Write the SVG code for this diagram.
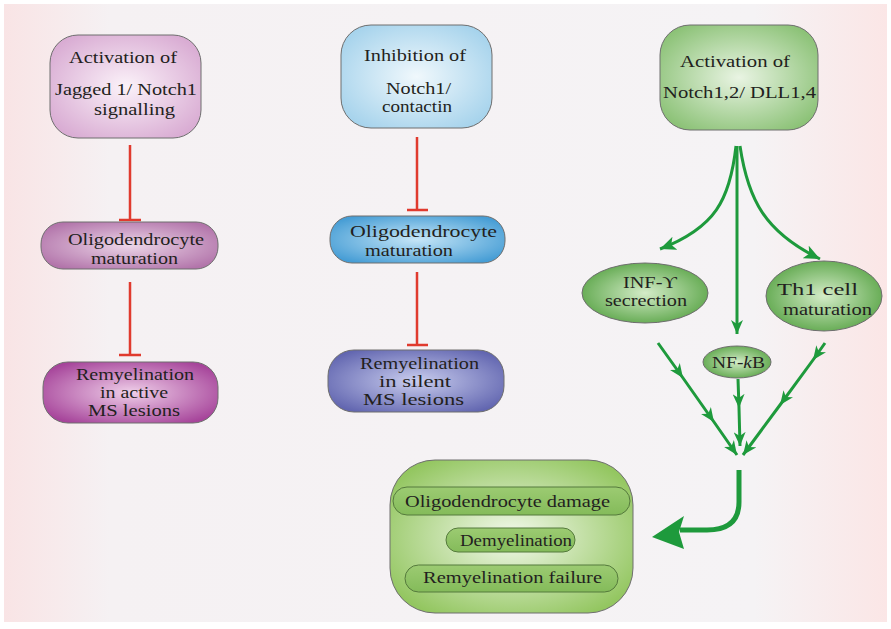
<svg xmlns="http://www.w3.org/2000/svg" width="891" height="629" viewBox="0 0 891 629">
<style>
.t{font-family:"Liberation Serif","Times New Roman",serif;font-size:16px;fill:#231f20}
.box{stroke:#6e6e6e;stroke-width:1}
.inh{stroke:#e03a2e;stroke-width:2.5;fill:none}
.g{stroke:#1e9a3c;stroke-width:3;fill:none}
</style>
<defs>
<linearGradient id="bg" x1="0" x2="1" y1="0" y2="0">
<stop offset="0" stop-color="#f9e4e5"/><stop offset="0.12" stop-color="#f5f1f3"/><stop offset="0.85" stop-color="#f5f3f5"/><stop offset="1" stop-color="#fbe6e6"/>
</linearGradient>
<radialGradient id="gPink1" cx="0.5" cy="0.5" r="0.6"><stop offset="0" stop-color="#fbf2f9"/><stop offset="1" stop-color="#d9acd3"/></radialGradient>
<radialGradient id="gPink2" cx="0.5" cy="0.5" r="0.6"><stop offset="0" stop-color="#ecd6e8"/><stop offset="1" stop-color="#b274aa"/></radialGradient>
<radialGradient id="gMag" cx="0.5" cy="0.5" r="0.6"><stop offset="0" stop-color="#efcfe9"/><stop offset="1" stop-color="#a6449a"/></radialGradient>
<radialGradient id="gBlue1" cx="0.5" cy="0.5" r="0.6"><stop offset="0" stop-color="#f0f8fc"/><stop offset="1" stop-color="#a6d3ec"/></radialGradient>
<radialGradient id="gBlue2" cx="0.5" cy="0.5" r="0.6"><stop offset="0" stop-color="#c6e6f7"/><stop offset="1" stop-color="#469dd5"/></radialGradient>
<radialGradient id="gPurp" cx="0.5" cy="0.5" r="0.6"><stop offset="0" stop-color="#c9cdee"/><stop offset="1" stop-color="#6266b0"/></radialGradient>
<radialGradient id="gGreen1" cx="0.5" cy="0.5" r="0.6"><stop offset="0" stop-color="#e9f4e3"/><stop offset="1" stop-color="#8cc277"/></radialGradient>
<radialGradient id="gEll" cx="0.5" cy="0.5" r="0.6"><stop offset="0" stop-color="#d4ecc8"/><stop offset="1" stop-color="#54a141"/></radialGradient>
<radialGradient id="gBig" cx="0.5" cy="0.5" r="0.6"><stop offset="0" stop-color="#f3f9ec"/><stop offset="1" stop-color="#93c660"/></radialGradient>
<linearGradient id="gPill" x1="0" x2="0" y1="0" y2="1"><stop offset="0" stop-color="#9ccb72"/><stop offset="1" stop-color="#84bb5a"/></linearGradient>
<marker id="ah" viewBox="0 0 14 12" refX="14" refY="6" markerWidth="14" markerHeight="12" markerUnits="userSpaceOnUse" orient="auto"><path d="M0,0 L14,6 L0,12 L4,6 z" fill="#1e9a3c"/></marker>
<marker id="ahL" viewBox="0 0 16 14" refX="16" refY="7" markerWidth="16" markerHeight="14" markerUnits="userSpaceOnUse" orient="auto"><path d="M0,0 L16,7 L0,14 L4,7 z" fill="#1e9a3c"/></marker>
</defs>
<rect x="0" y="0" width="891" height="629" fill="#ffffff"/>
<rect x="4" y="4" width="883" height="618" fill="url(#bg)"/>

<g id="connectors">
<path class="inh" d="M130,145 V220 M119,220 H141"/>
<path class="inh" d="M130,282 V355 M119,355 H141"/>
<path class="inh" d="M417,137 V210 M407,210 H428"/>
<path class="inh" d="M417,272 V345 M407,345 H428"/>
<path class="g" d="M736,146 C730,200 715,228 660,249" marker-end="url(#ahL)"/>
<path class="g" d="M740,146 C748,200 765,232 820,259" marker-end="url(#ahL)"/>
<path class="g" d="M737,146 V334" marker-end="url(#ah)"/>
<polyline class="g" points="658,343 683,378 714,422 737,455" marker-mid="url(#ah)" marker-end="url(#ah)"/>
<polyline class="g" points="738,379 739,408 740,446" marker-mid="url(#ah)" marker-end="url(#ah)"/>
<polyline class="g" points="825,343 813,360 780,405 743,455" marker-mid="url(#ah)" marker-end="url(#ah)"/>
<path d="M739,470 V502 Q739,530 707,530 H680" stroke="#1e9a3c" stroke-width="5" fill="none"/>
<path d="M652,537 L684,516 L679,532 L684,549 z" fill="#1e9a3c"/>
</g>

<g id="n1">
<rect class="box" x="50" y="35" width="151" height="103" rx="28" fill="url(#gPink1)"/>
<text class="t" x="69" y="63" textLength="108" lengthAdjust="spacingAndGlyphs">Activation of</text>
<text class="t" x="55" y="95" textLength="142" lengthAdjust="spacingAndGlyphs">Jagged 1/ Notch1</text>
<text class="t" x="94" y="115" textLength="81" lengthAdjust="spacingAndGlyphs">signalling</text>
</g>
<g id="n2">
<rect class="box" x="41" y="222" width="177" height="47" rx="22" fill="url(#gPink2)"/>
<text class="t" x="68" y="245" textLength="136" lengthAdjust="spacingAndGlyphs">Oligodendrocyte</text>
<text class="t" x="91" y="264" textLength="87" lengthAdjust="spacingAndGlyphs">maturation</text>
</g>
<g id="n3">
<rect class="box" x="43" y="362" width="175" height="61" rx="25" fill="url(#gMag)"/>
<text class="t" x="76" y="380" textLength="118" lengthAdjust="spacingAndGlyphs">Remyelination</text>
<text class="t" x="100" y="398" textLength="68" lengthAdjust="spacingAndGlyphs">in active</text>
<text class="t" x="88" y="416" textLength="92" lengthAdjust="spacingAndGlyphs">MS lesions</text>
</g>

<g id="n4">
<rect class="box" x="341" y="25" width="151" height="103" rx="30" fill="url(#gBlue1)"/>
<text class="t" x="364" y="61" textLength="102" lengthAdjust="spacingAndGlyphs">Inhibition of</text>
<text class="t" x="386" y="94" textLength="65" lengthAdjust="spacingAndGlyphs">Notch1/</text>
<text class="t" x="382" y="112" textLength="70" lengthAdjust="spacingAndGlyphs">contactin</text>
</g>
<g id="n5">
<rect class="box" x="330" y="216" width="175" height="47" rx="22" fill="url(#gBlue2)"/>
<text class="t" x="350" y="237" textLength="147" lengthAdjust="spacingAndGlyphs">Oligodendrocyte</text>
<text class="t" x="365" y="256" textLength="88" lengthAdjust="spacingAndGlyphs">maturation</text>
</g>
<g id="n6">
<rect class="box" x="328" y="350" width="176" height="62" rx="26" fill="url(#gPurp)"/>
<text class="t" x="360" y="369" textLength="119" lengthAdjust="spacingAndGlyphs">Remyelination</text>
<text class="t" x="379" y="387" textLength="72" lengthAdjust="spacingAndGlyphs">in silent</text>
<text class="t" x="363" y="405" textLength="101" lengthAdjust="spacingAndGlyphs">MS lesions</text>
</g>

<g id="n7">
<rect class="box" x="660" y="25" width="158" height="105" rx="30" fill="url(#gGreen1)"/>
<text class="t" x="680" y="67" textLength="110" lengthAdjust="spacingAndGlyphs">Activation of</text>
<text class="t" x="663" y="98" textLength="153" lengthAdjust="spacingAndGlyphs">Notch1,2/ DLL1,4</text>
</g>
<g id="n8">
<ellipse class="box" cx="645" cy="293" rx="63" ry="30" fill="url(#gEll)"/>
<text class="t" x="623" y="288" textLength="54" lengthAdjust="spacingAndGlyphs">INF-ϒ</text>
<text class="t" x="605" y="306" textLength="82" lengthAdjust="spacingAndGlyphs">secrection</text>
</g>
<g id="n9">
<ellipse class="box" cx="737" cy="362" rx="34" ry="16" fill="url(#gEll)"/>
<text class="t" x="712" y="368" textLength="53" lengthAdjust="spacingAndGlyphs">NF-<tspan font-style="italic">k</tspan>B</text>
</g>
<g id="n10">
<ellipse class="box" cx="824" cy="296" rx="58" ry="35" fill="url(#gEll)"/>
<text class="t" x="777" y="295" textLength="81" lengthAdjust="spacingAndGlyphs">Th1 cell</text>
<text class="t" x="783" y="315" textLength="89" lengthAdjust="spacingAndGlyphs">maturation</text>
</g>
<g id="n11">
<rect class="box" x="390" y="460" width="243" height="153" rx="45" fill="url(#gBig)"/>
<rect x="393" y="487" width="237" height="28" rx="14" fill="url(#gPill)" stroke="#557a3c" stroke-width="1"/>
<text class="t" x="405" y="507" textLength="205" lengthAdjust="spacingAndGlyphs">Oligodendrocyte damage</text>
<rect x="446" y="528" width="129" height="24" rx="12" fill="url(#gPill)" stroke="#557a3c" stroke-width="1"/>
<text class="t" x="460" y="546" textLength="112" lengthAdjust="spacingAndGlyphs">Demyelination</text>
<rect x="405" y="565" width="213" height="27" rx="13.5" fill="url(#gPill)" stroke="#557a3c" stroke-width="1"/>
<text class="t" x="423" y="583" textLength="179" lengthAdjust="spacingAndGlyphs">Remyelination failure</text>
</g>
</svg>
